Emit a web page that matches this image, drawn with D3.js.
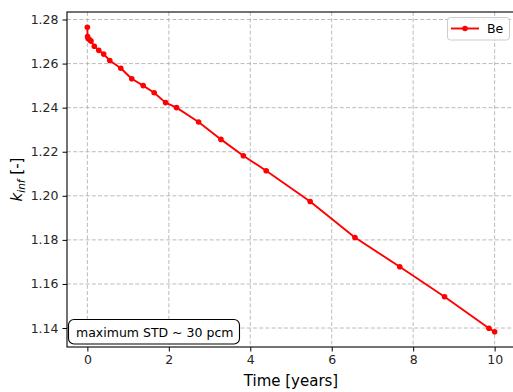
<!DOCTYPE html>
<html>
<head>
<meta charset="utf-8">
<script src="https://cdn.jsdelivr.net/npm/d3@7"></script>
<style>
  html, body { margin: 0; padding: 0; background: #fff; overflow: hidden; }
  svg { display: block; font-family: "DejaVu Sans", sans-serif; }
</style>
</head>
<body>
<svg id="chart" width="513" height="392"></svg>
<script>
// Depletion history of k-infinity for the Be case
const timeYears = [0, 0.005, 0.017, 0.056, 0.09, 0.17, 0.28, 0.40, 0.55, 0.82, 1.09, 1.37, 1.64,
                   1.92, 2.19, 2.73, 3.28, 3.83, 4.39, 5.47, 6.57, 7.67, 8.77, 9.86, 10.0];
const kInf = [1.2765, 1.2723, 1.2714, 1.2708, 1.2702, 1.2679, 1.2660, 1.2643, 1.2614, 1.2579,
              1.2531, 1.2500, 1.2468, 1.2423, 1.2400, 1.2335, 1.2256, 1.2182, 1.2114, 1.1974,
              1.1811, 1.1678, 1.1542, 1.1399, 1.1383];
const xTicks = [0, 2, 4, 6, 8, 10];
const yTicks = [1.14, 1.16, 1.18, 1.20, 1.22, 1.24, 1.26, 1.28];
const seriesName = "Be";
const noteText = "maximum STD ~ 30 pcm";

const svg = d3.select("#chart");
const plot = { left: 67, right: 515, top: 12, bottom: 347 };

// 5% padding on each side of the data range
function padded(values) {
  const [lo, hi] = d3.extent(values);
  const p = (hi - lo) * 0.05;
  return [lo - p, hi + p];
}

const x = d3.scaleLinear().domain(padded(timeYears)).range([plot.left, plot.right]);
const y = d3.scaleLinear().domain(padded(kInf)).range([plot.bottom, plot.top]);

const gridColor = "#b0b0b0";

// grid
svg.append("g").selectAll("line").data(xTicks).join("line")
  .attr("x1", d => x(d)).attr("x2", d => x(d))
  .attr("y1", plot.top).attr("y2", plot.bottom)
  .attr("stroke", gridColor).attr("stroke-width", 1).attr("stroke-dasharray", "4,2.2")
  .attr("opacity", 0.85);
svg.append("g").selectAll("line").data(yTicks).join("line")
  .attr("x1", plot.left).attr("x2", plot.right)
  .attr("y1", d => y(d)).attr("y2", d => y(d))
  .attr("stroke", gridColor).attr("stroke-width", 1).attr("stroke-dasharray", "4,2.2")
  .attr("opacity", 0.85);

// data line and markers
const pts = timeYears.map((t, i) => [t, kInf[i]]);
svg.append("path")
  .datum(pts)
  .attr("fill", "none")
  .attr("stroke", "#ff0000")
  .attr("stroke-width", 1.9)
  .attr("stroke-linejoin", "round")
  .attr("d", d3.line().x(d => x(d[0])).y(d => y(d[1])));
svg.append("g").selectAll("circle").data(pts).join("circle")
  .attr("cx", d => x(d[0])).attr("cy", d => y(d[1]))
  .attr("r", 2.8).attr("fill", "#ff0000");

// axes
const xAxis = d3.axisBottom(x).tickValues(xTicks).tickFormat(d3.format("d"))
  .tickSizeInner(4.5).tickSizeOuter(0).tickPadding(4);
const yAxis = d3.axisLeft(y).tickValues(yTicks).tickFormat(d3.format(".2f"))
  .tickSizeInner(4.5).tickSizeOuter(0).tickPadding(4);

const gx = svg.append("g").attr("transform", `translate(0,${plot.bottom})`).call(xAxis);
const gy = svg.append("g").attr("transform", `translate(${plot.left},0)`).call(yAxis);
[gx, gy].forEach(g => {
  g.select(".domain").remove();
  g.selectAll(".tick line").attr("stroke", "#000").attr("stroke-width", 1);
  g.selectAll(".tick text").attr("fill", "#262626")
    .style("font-family", "DejaVu Sans").style("font-size", "12.5px");
});

// spines
svg.append("rect")
  .attr("x", plot.left).attr("y", plot.top)
  .attr("width", plot.right - plot.left).attr("height", plot.bottom - plot.top)
  .attr("fill", "none").attr("stroke", "#000").attr("stroke-width", 1.1);

// axis labels
svg.append("text")
  .attr("x", (plot.left + plot.right) / 2).attr("y", 386)
  .attr("text-anchor", "middle")
  .style("font-size", "15px").attr("fill", "#000")
  .text("Time [years]");

const yl = svg.append("text")
  .attr("transform", `translate(22,${(plot.top + plot.bottom) / 2}) rotate(-90)`)
  .attr("text-anchor", "middle")
  .style("font-size", "15px").attr("fill", "#000");
yl.append("tspan").style("font-style", "italic").text("k");
yl.append("tspan").style("font-style", "italic").style("font-size", "10.5px")
  .attr("dy", 3).text("inf");
yl.append("tspan").attr("dy", -3).text(" [-]");

// legend
const lg = svg.append("g");
lg.append("rect")
  .attr("x", 447.5).attr("y", 17.5).attr("width", 62).attr("height", 22.5)
  .attr("rx", 3).attr("fill", "#fff").attr("fill-opacity", 0.8)
  .attr("stroke", "#cccccc").attr("stroke-width", 1);
lg.append("line")
  .attr("x1", 451).attr("x2", 479).attr("y1", 28.5).attr("y2", 28.5)
  .attr("stroke", "#ff0000").attr("stroke-width", 1.9);
lg.append("circle").attr("cx", 465).attr("cy", 28.5).attr("r", 2.8).attr("fill", "#ff0000");
lg.append("text").attr("x", 487).attr("y", 33.3)
  .style("font-size", "12.5px").attr("fill", "#000").text(seriesName);

// annotation box
const note = svg.append("g");
note.append("rect")
  .attr("x", 68.5).attr("y", 319.5).attr("width", 171).attr("height", 24.5)
  .attr("rx", 5.5).attr("fill", "#fff").attr("stroke", "#000").attr("stroke-width", 1.1);
note.append("text").attr("x", 76).attr("y", 336.5)
  .style("font-size", "12.5px").attr("fill", "#000").text(noteText);
</script>
</body>
</html>
